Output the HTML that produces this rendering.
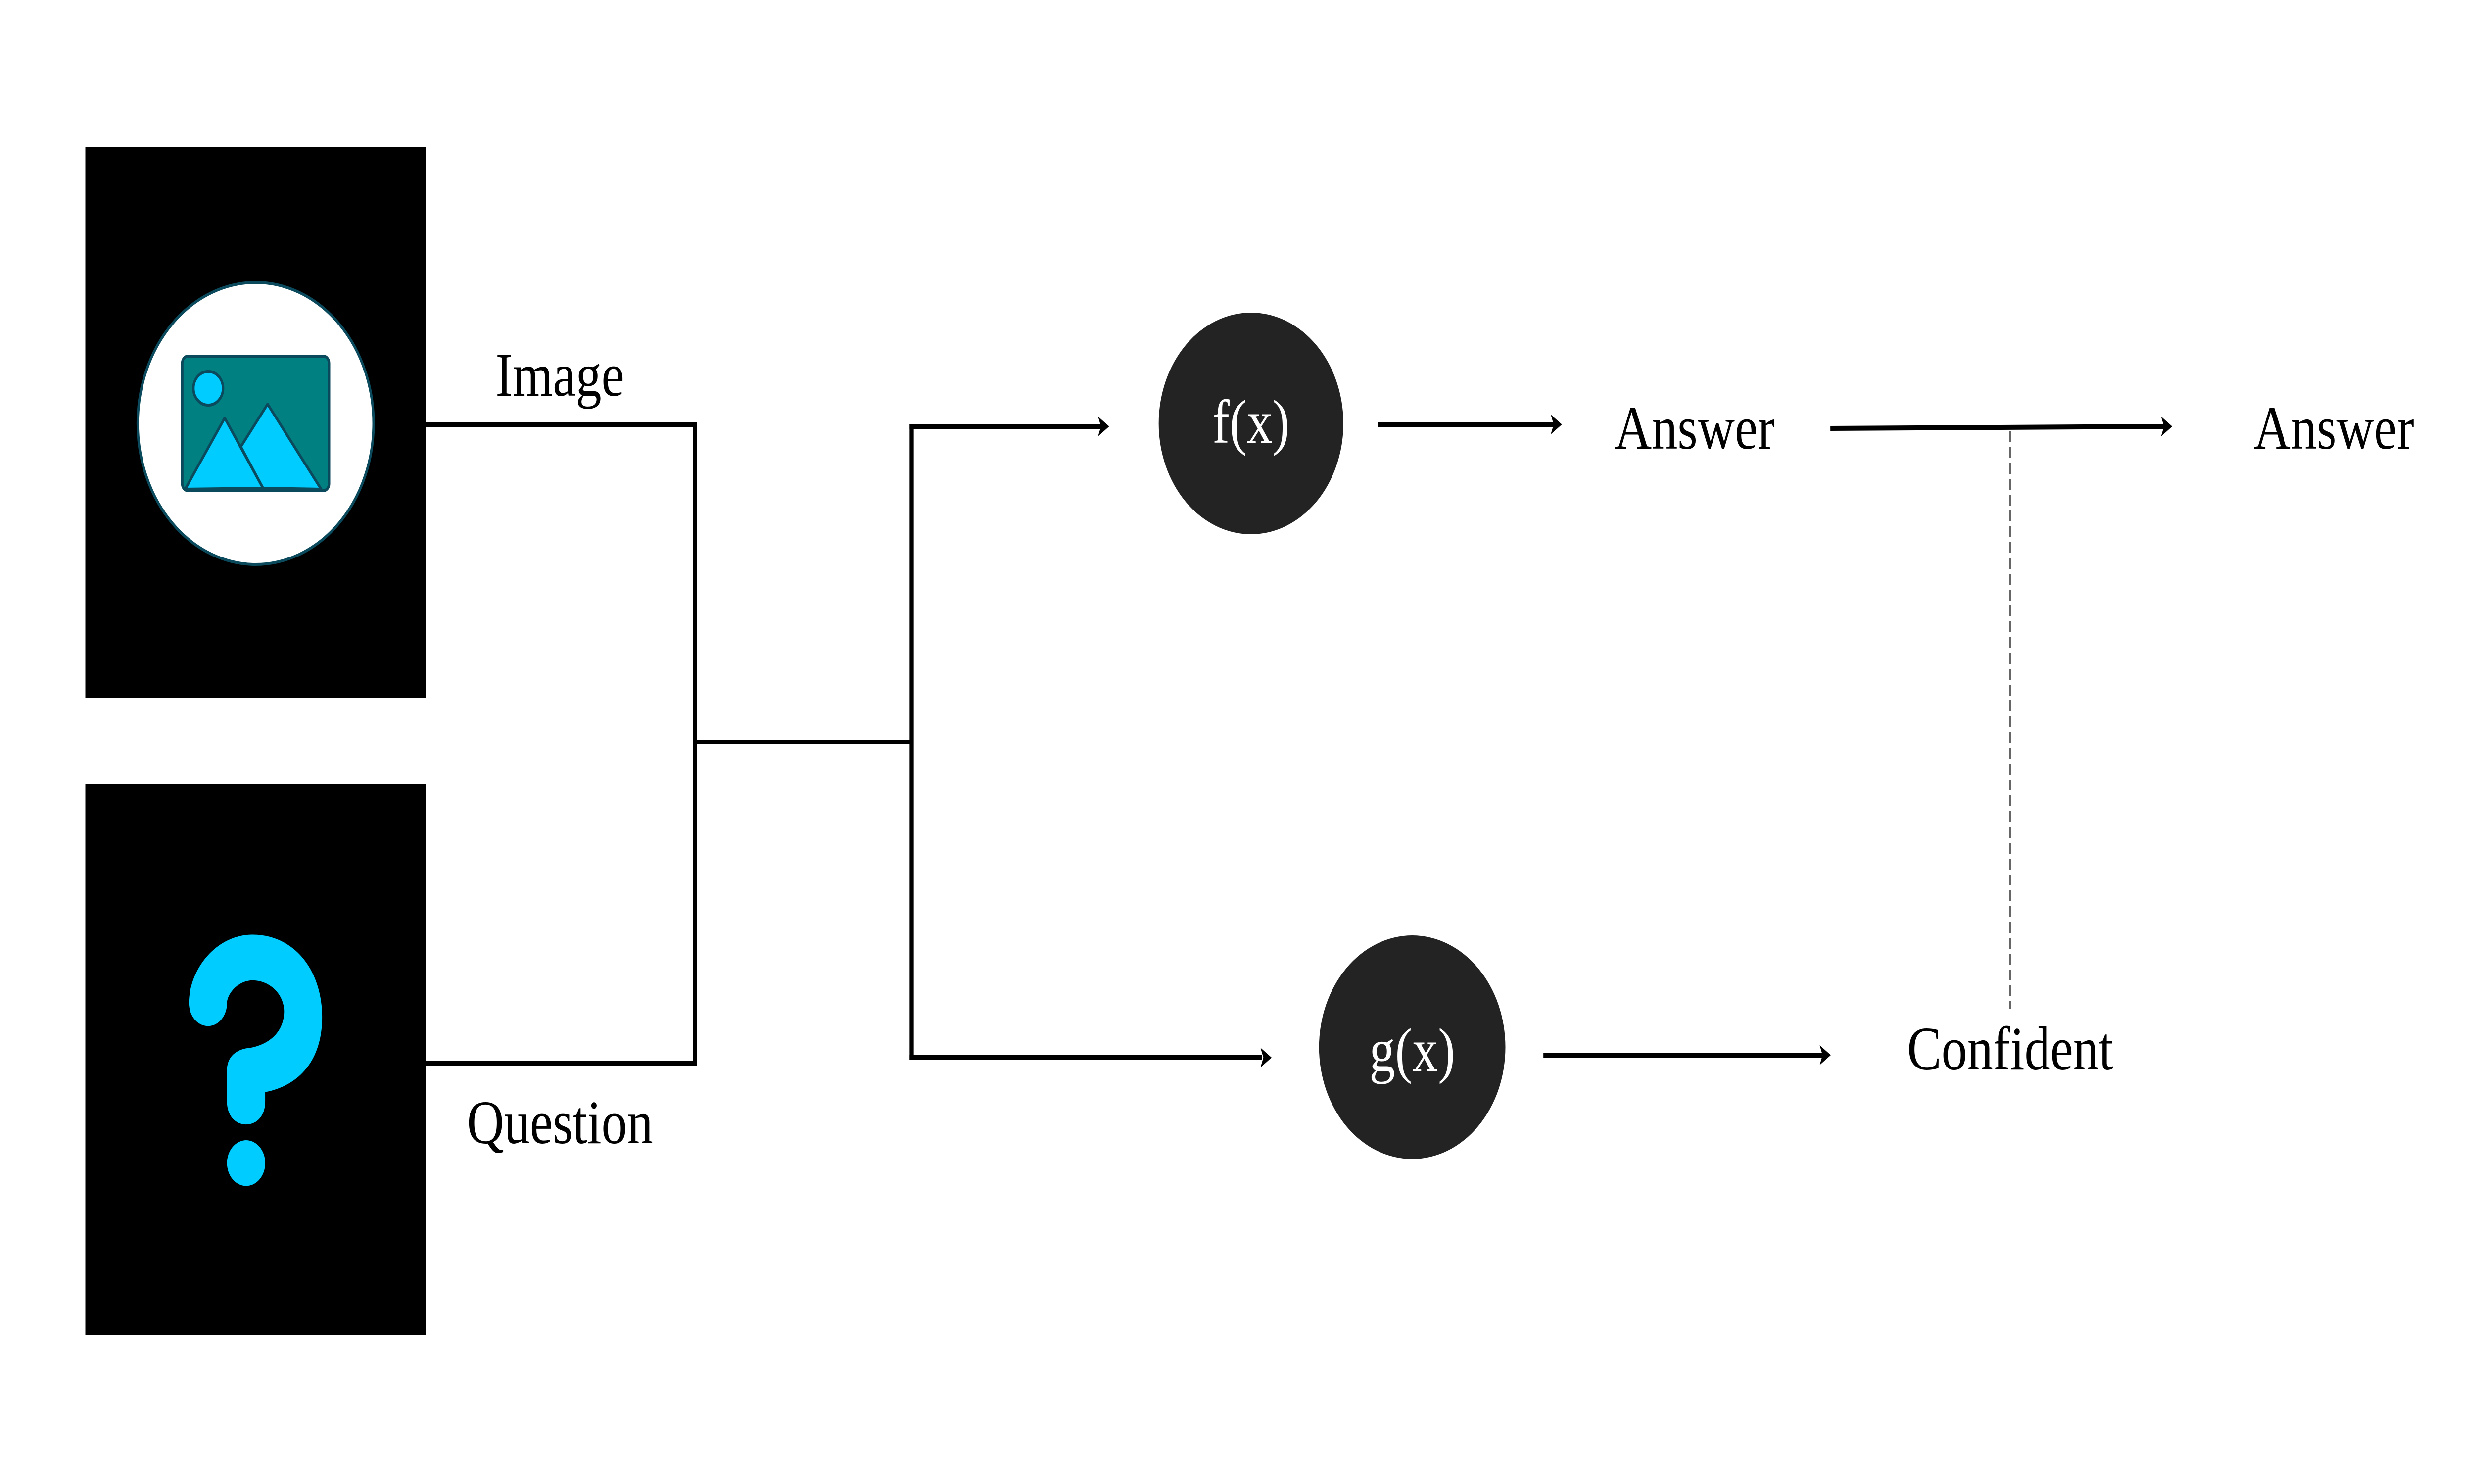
<!DOCTYPE html>
<html><head><meta charset="utf-8"><style>
html,body{margin:0;padding:0;background:#fff;overflow:hidden;width:100%;height:100%;}
svg{display:block;width:100vw;height:100vh;}
text{font-family:"Liberation Serif",serif;}
</style></head><body>
<svg viewBox="0 0 6000 3000" preserveAspectRatio="none" xmlns="http://www.w3.org/2000/svg">
<rect width="6000" height="3000" fill="#fff"/>
<rect x="207" y="298" width="826" height="1114" fill="#000"/>
<rect x="207" y="1584" width="826" height="1114" fill="#000"/>
<ellipse cx="620" cy="856" rx="286" ry="285" fill="#fff" stroke="#0b4a5c" stroke-width="6"/>
<rect x="442" y="720" width="356" height="272" rx="14" fill="#008080" stroke="#0b4a5c" stroke-width="6"/>
<ellipse cx="505" cy="785" rx="36" ry="34" fill="#00ccff" stroke="#0b4a5c" stroke-width="6"/>
<polygon points="584,903 649,817 779,989 638,987" fill="#00ccff" stroke="#0b4a5c" stroke-width="6" stroke-linejoin="round"/>
<polygon points="449,989 545,845 638,987" fill="#00ccff" stroke="#0b4a5c" stroke-width="6" stroke-linejoin="round"/>
<g transform="translate(207,1584) scale(0.5269,0.7104)">
<path fill="#00ccff" d="M477,625 C477,530 600,430 770,430 C960,430 1090,530 1090,665 C1090,790 980,860 828,878 L828,905 C828,945 790,970 740,970 C690,970 652,945 652,905 L652,815 C652,780 690,755 760,752 C860,740 915,700 915,648 C915,600 850,560 770,560 C700,560 652,600 652,625 C652,660 615,690 565,690 C515,690 477,660 477,625 Z"/>
<ellipse cx="740" cy="1080" rx="88" ry="65" fill="#00ccff"/>
</g>
<g stroke="#000" stroke-width="10" fill="none">
<line x1="1033" y1="859" x2="1690" y2="859"/>
<line x1="1033" y1="2149" x2="1690" y2="2149"/>
<line x1="1685" y1="854" x2="1685" y2="2154"/>
<line x1="1685" y1="1500" x2="2211" y2="1500"/>
<line x1="2211" y1="857" x2="2211" y2="2143"/>
<line x1="2206" y1="862" x2="2670" y2="862"/>
<line x1="2206" y1="2138" x2="3060" y2="2138"/>
<line x1="3341" y1="858" x2="3768" y2="858"/>
<line x1="3743" y1="2133" x2="4420" y2="2133"/>
<line x1="4439" y1="866" x2="5248" y2="862"/>
</g>
<line x1="4875" y1="872" x2="4875" y2="2040" stroke="#333" stroke-width="3" stroke-dasharray="22,10"/>
<g fill="#000">
<polygon points="2663,842 2690,862 2663,882 2670,862"/>
<polygon points="3057,2118 3084,2138 3057,2158 3064,2138"/>
<polygon points="3761,838 3788,858 3761,878 3768,858"/>
<polygon points="4413,2113 4440,2133 4413,2153 4420,2133"/>
<polygon points="5241,842 5268,862 5241,882 5248,862"/>
</g>
<circle cx="3034" cy="856" r="224" fill="#232323"/>
<circle cx="3425" cy="2117" r="226" fill="#232323"/>
<g font-size="125" text-anchor="middle">
<text x="1358" y="800" fill="#000">Image</text>
<text x="1358" y="2311" fill="#000">Question</text>
<text x="3034" y="895" fill="#fff">f(x)</text>
<text x="3425" y="2165" fill="#fff">g(x)</text>
<text x="4110" y="907" fill="#000">Answer</text>
<text x="5660" y="907" fill="#000">Answer</text>
<text x="4875" y="2162" fill="#000">Confident</text>
</g>
</svg>
</body></html>
